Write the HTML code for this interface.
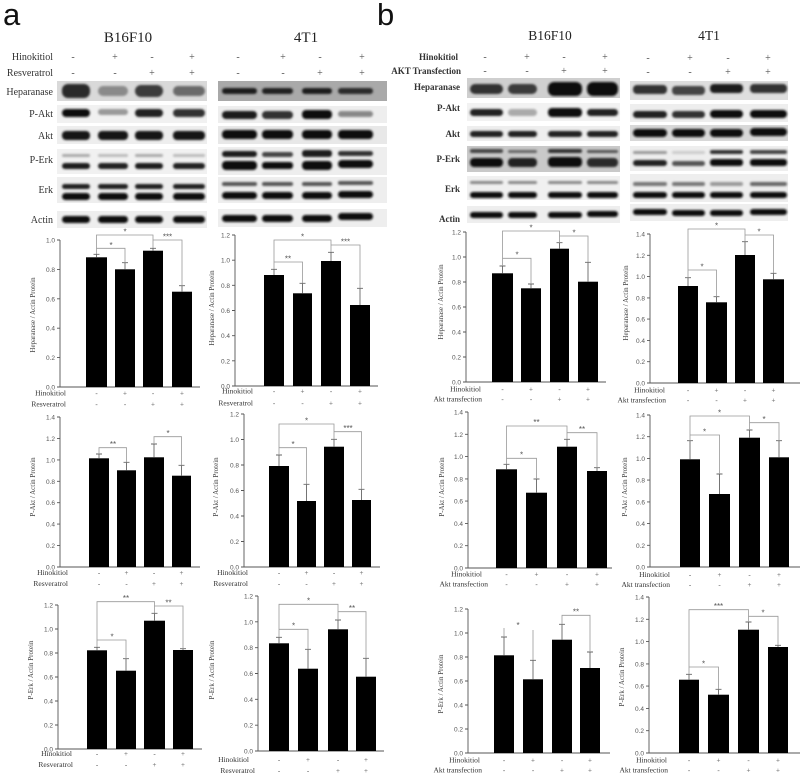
<!DOCTYPE html>
<html><head><meta charset="utf-8"><style>
html,body{margin:0;padding:0;background:#fff}
svg{display:block}
.sf{font-family:"Liberation Serif",serif}
.tk{font-family:"Liberation Sans",sans-serif;font-size:6.5px;fill:#555;text-anchor:end}
.yt{font-family:"Liberation Serif",serif;font-size:7px;fill:#444;text-anchor:middle}
.rl{font-family:"Liberation Serif",serif;font-size:7.5px;fill:#333;text-anchor:end}
.mk{font-family:"Liberation Serif",serif;font-size:7px;fill:#555;text-anchor:middle}
.st{font-family:"Liberation Sans",sans-serif;font-size:8px;fill:#555;text-anchor:middle}
.ax{stroke:#555;stroke-width:0.9;fill:none}
.br{stroke:#999;stroke-width:0.8;fill:none}
.er{stroke:#666;stroke-width:0.9;fill:none}
.hd{font-family:"Liberation Serif",serif;font-size:10px;fill:#333}
.hm{font-family:"Liberation Serif",serif;font-size:10px;fill:#555;text-anchor:middle}
.hb{font-family:"Liberation Serif",serif;font-size:9px;font-weight:bold;fill:#333}
</style></head><body>
<svg width="806" height="777" viewBox="0 0 806 777" xmlns="http://www.w3.org/2000/svg">
<defs><filter id="bl" x="-20%" y="-50%" width="140%" height="200%"><feGaussianBlur stdDeviation="1"/></filter></defs>
<rect width="806" height="777" fill="#fff"/>

<!-- Panel letters -->
<text x="3" y="25" font-family="Liberation Sans, sans-serif" font-size="31" fill="#111">a</text>
<text x="377" y="25" font-family="Liberation Sans, sans-serif" font-size="31" fill="#111">b</text>

<!-- Panel a headers -->
<text x="128" y="42" class="sf" font-size="15" fill="#222" text-anchor="middle">B16F10</text>
<text x="306" y="42" class="sf" font-size="15" fill="#222" text-anchor="middle">4T1</text>
<text x="53" y="60" class="hd" text-anchor="end">Hinokitiol</text>
<text x="53" y="76" class="hd" text-anchor="end">Resveratrol</text>
<g class="hm">
<text x="73" y="60">-</text><text x="115" y="60">+</text><text x="152" y="60">-</text><text x="192" y="60">+</text>
<text x="238" y="60">-</text><text x="283" y="60">+</text><text x="320" y="60">-</text><text x="362" y="60">+</text>
<text x="73" y="76">-</text><text x="115" y="76">-</text><text x="152" y="76">+</text><text x="192" y="76">+</text>
<text x="238" y="76">-</text><text x="283" y="76">-</text><text x="320" y="76">+</text><text x="362" y="76">+</text>
</g>
<g class="hd" text-anchor="end">
<text x="53" y="95" text-anchor="end">Heparanase</text>
<text x="53" y="117" text-anchor="end">P-Akt</text>
<text x="53" y="139" text-anchor="end">Akt</text>
<text x="53" y="163" text-anchor="end">P-Erk</text>
<text x="53" y="193" text-anchor="end">Erk</text>
<text x="53" y="223" text-anchor="end">Actin</text>
</g>

<!-- Panel a blots B16F10 -->
<rect x="57" y="81" width="150" height="20" fill="#d9d9d9"/>
<rect x="57" y="105" width="150" height="18" fill="#f1f1f1"/>
<rect x="57" y="126" width="150" height="18" fill="#eeeeee"/>
<rect x="57" y="149" width="150" height="25" fill="#f1f1f1"/>
<rect x="57" y="177" width="150" height="26" fill="#eeeeee"/>
<rect x="57" y="211" width="150" height="17" fill="#eeeeee"/>
<g filter="url(#bl)">
<rect x="62" y="84" width="28" height="14" rx="6" fill="#2a2a2a"/>
<rect x="98" y="86" width="30" height="10" rx="5" fill="#8a8a8a"/>
<rect x="135" y="85" width="28" height="12" rx="6" fill="#3a3a3a"/>
<rect x="173" y="86" width="32" height="10" rx="5" fill="#6a6a6a"/>
<rect x="62" y="109" width="28" height="8" rx="4" fill="#111"/>
<rect x="98" y="109" width="30" height="6" rx="3" fill="#999"/>
<rect x="135" y="109" width="28" height="8" rx="4" fill="#222"/>
<rect x="173" y="109" width="32" height="8" rx="4" fill="#333"/>
<rect x="62" y="131" width="28" height="9" rx="4" fill="#151515"/>
<rect x="98" y="131" width="30" height="9" rx="4" fill="#151515"/>
<rect x="135" y="131" width="28" height="9" rx="4" fill="#151515"/>
<rect x="173" y="131" width="32" height="9" rx="4" fill="#151515"/>
<rect x="62" y="154" width="28" height="3" rx="1.5" fill="#aaa"/>
<rect x="98" y="154" width="30" height="3" rx="1.5" fill="#bbb"/>
<rect x="135" y="154" width="28" height="3" rx="1.5" fill="#aaa"/>
<rect x="173" y="154" width="32" height="3" rx="1.5" fill="#bbb"/>
<rect x="62" y="163" width="28" height="6" rx="3" fill="#1a1a1a"/>
<rect x="98" y="163" width="30" height="6" rx="3" fill="#222"/>
<rect x="135" y="163" width="28" height="6" rx="3" fill="#1a1a1a"/>
<rect x="173" y="163" width="32" height="6" rx="3" fill="#222"/>
<rect x="62" y="184" width="28" height="5" rx="2.5" fill="#222"/>
<rect x="98" y="184" width="30" height="5" rx="2.5" fill="#222"/>
<rect x="135" y="184" width="28" height="5" rx="2.5" fill="#222"/>
<rect x="173" y="184" width="32" height="5" rx="2.5" fill="#222"/>
<rect x="62" y="193" width="28" height="7" rx="3.5" fill="#111"/>
<rect x="98" y="193" width="30" height="7" rx="3.5" fill="#111"/>
<rect x="135" y="193" width="28" height="7" rx="3.5" fill="#111"/>
<rect x="173" y="193" width="32" height="7" rx="3.5" fill="#111"/>
<rect x="62" y="216" width="28" height="7" rx="3.5" fill="#111"/>
<rect x="98" y="216" width="30" height="7" rx="3.5" fill="#111"/>
<rect x="135" y="216" width="28" height="7" rx="3.5" fill="#111"/>
<rect x="173" y="216" width="32" height="7" rx="3.5" fill="#111"/>
</g>

<!-- Panel a blots 4T1 -->
<rect x="218" y="81" width="169" height="20" fill="#a9a9a9"/>
<rect x="218" y="106" width="169" height="17" fill="#eeeeee"/>
<rect x="218" y="126" width="169" height="18" fill="#e8e8e8"/>
<rect x="218" y="147" width="169" height="28" fill="#eeeeee"/>
<rect x="218" y="177" width="169" height="26" fill="#eeeeee"/>
<rect x="218" y="209" width="169" height="18" fill="#eeeeee"/>
<g filter="url(#bl)">
<rect x="222" y="88" width="35" height="6" rx="3" fill="#1a1a1a"/>
<rect x="262" y="88" width="31" height="6" rx="3" fill="#222"/>
<rect x="302" y="88" width="30" height="6" rx="3" fill="#1a1a1a"/>
<rect x="338" y="88" width="35" height="6" rx="3" fill="#2a2a2a"/>
<rect x="222" y="111" width="35" height="8" rx="4" fill="#1a1a1a"/>
<rect x="262" y="111" width="31" height="8" rx="4" fill="#333"/>
<rect x="302" y="110" width="30" height="9" rx="4" fill="#111"/>
<rect x="338" y="111" width="35" height="6" rx="3" fill="#888"/>
<rect x="222" y="130" width="35" height="9" rx="4" fill="#111"/>
<rect x="262" y="130" width="31" height="9" rx="4" fill="#111"/>
<rect x="302" y="130" width="30" height="9" rx="4" fill="#111"/>
<rect x="338" y="130" width="35" height="9" rx="4" fill="#111"/>
<rect x="222" y="151" width="35" height="6" rx="3" fill="#1a1a1a"/>
<rect x="262" y="152" width="31" height="5" rx="2.5" fill="#444"/>
<rect x="302" y="150" width="30" height="7" rx="3" fill="#1a1a1a"/>
<rect x="338" y="151" width="35" height="5" rx="2.5" fill="#333"/>
<rect x="222" y="161" width="35" height="9" rx="4" fill="#111"/>
<rect x="262" y="162" width="31" height="7" rx="3" fill="#111"/>
<rect x="302" y="161" width="30" height="9" rx="4" fill="#111"/>
<rect x="338" y="160" width="35" height="8" rx="4" fill="#111"/>
<rect x="222" y="182" width="35" height="4" rx="2" fill="#555"/>
<rect x="262" y="182" width="31" height="4" rx="2" fill="#555"/>
<rect x="302" y="182" width="30" height="4" rx="2" fill="#555"/>
<rect x="338" y="181" width="35" height="4" rx="2" fill="#555"/>
<rect x="222" y="192" width="35" height="7" rx="3.5" fill="#111"/>
<rect x="262" y="192" width="31" height="7" rx="3.5" fill="#111"/>
<rect x="302" y="192" width="30" height="7" rx="3.5" fill="#111"/>
<rect x="338" y="191" width="35" height="7" rx="3.5" fill="#111"/>
<rect x="222" y="215" width="35" height="7" rx="3.5" fill="#111"/>
<rect x="262" y="215" width="31" height="7" rx="3.5" fill="#111"/>
<rect x="302" y="215" width="30" height="7" rx="3.5" fill="#111"/>
<rect x="338" y="213" width="35" height="7" rx="3.5" fill="#111"/>
</g>

<!-- Panel b headers -->
<text x="550" y="40" class="sf" font-size="13.5" fill="#222" text-anchor="middle">B16F10</text>
<text x="709" y="40" class="sf" font-size="13.5" fill="#222" text-anchor="middle">4T1</text>
<text x="458" y="60" class="hb" text-anchor="end">Hinokitiol</text>
<text x="461" y="74" class="hb" text-anchor="end">AKT Transfection</text>
<g class="hm" font-size="9">
<text x="485" y="60">-</text><text x="527" y="60">+</text><text x="564" y="60">-</text><text x="605" y="60">+</text>
<text x="648" y="61">-</text><text x="690" y="61">+</text><text x="728" y="61">-</text><text x="768" y="61">+</text>
<text x="485" y="74">-</text><text x="527" y="74">-</text><text x="564" y="74">+</text><text x="605" y="74">+</text>
<text x="648" y="75">-</text><text x="690" y="75">-</text><text x="728" y="75">+</text><text x="768" y="75">+</text>
</g>
<g class="hb">
<text x="460" y="90" text-anchor="end">Heparanase</text>
<text x="460" y="111" text-anchor="end">P-Akt</text>
<text x="460" y="137" text-anchor="end">Akt</text>
<text x="460" y="162" text-anchor="end">P-Erk</text>
<text x="460" y="192" text-anchor="end">Erk</text>
<text x="460" y="222" text-anchor="end">Actin</text>
</g>

<!-- Panel b blots B16F10 -->
<rect x="467" y="78" width="153" height="20" fill="#cfcfcf"/>
<rect x="467" y="103" width="153" height="18" fill="#f2f2f2"/>
<rect x="467" y="126" width="153" height="15" fill="#eeeeee"/>
<rect x="467" y="146" width="153" height="26" fill="#c9c9c9"/>
<rect x="467" y="176" width="153" height="24" fill="#f0f0f0"/>
<rect x="467" y="206" width="153" height="17" fill="#eeeeee"/>
<g filter="url(#bl)">
<rect x="470" y="84" width="33" height="10" rx="5" fill="#333"/>
<rect x="508" y="84" width="29" height="10" rx="5" fill="#3a3a3a"/>
<rect x="548" y="82" width="34" height="14" rx="6" fill="#0d0d0d"/>
<rect x="587" y="82" width="31" height="14" rx="6" fill="#111"/>
<rect x="470" y="109" width="33" height="7" rx="3.5" fill="#222"/>
<rect x="508" y="109" width="29" height="7" rx="3.5" fill="#aaa"/>
<rect x="548" y="108" width="34" height="9" rx="4" fill="#111"/>
<rect x="587" y="109" width="31" height="7" rx="3.5" fill="#222"/>
<rect x="470" y="131" width="33" height="6" rx="3" fill="#222"/>
<rect x="508" y="131" width="29" height="6" rx="3" fill="#222"/>
<rect x="548" y="131" width="34" height="6" rx="3" fill="#222"/>
<rect x="587" y="131" width="31" height="6" rx="3" fill="#222"/>
<rect x="470" y="149" width="33" height="4" rx="2" fill="#444"/>
<rect x="508" y="150" width="29" height="3" rx="1.5" fill="#666"/>
<rect x="548" y="149" width="34" height="4" rx="2" fill="#333"/>
<rect x="587" y="150" width="31" height="3" rx="1.5" fill="#555"/>
<rect x="470" y="158" width="33" height="9" rx="4" fill="#111"/>
<rect x="508" y="158" width="29" height="9" rx="4" fill="#222"/>
<rect x="548" y="157" width="34" height="10" rx="4" fill="#111"/>
<rect x="587" y="158" width="31" height="9" rx="4" fill="#2a2a2a"/>
<rect x="470" y="181" width="33" height="3" rx="1.5" fill="#888"/>
<rect x="508" y="181" width="29" height="3" rx="1.5" fill="#888"/>
<rect x="548" y="181" width="34" height="3" rx="1.5" fill="#888"/>
<rect x="587" y="181" width="31" height="3" rx="1.5" fill="#888"/>
<rect x="470" y="192" width="33" height="6" rx="3" fill="#111"/>
<rect x="508" y="192" width="29" height="6" rx="3" fill="#111"/>
<rect x="548" y="192" width="34" height="6" rx="3" fill="#111"/>
<rect x="587" y="192" width="31" height="6" rx="3" fill="#111"/>
<rect x="470" y="212" width="33" height="6" rx="3" fill="#111"/>
<rect x="508" y="212" width="29" height="6" rx="3" fill="#111"/>
<rect x="548" y="212" width="34" height="6" rx="3" fill="#111"/>
<rect x="587" y="211" width="31" height="6" rx="3" fill="#111"/>
</g>

<!-- Panel b blots 4T1 -->
<rect x="630" y="81" width="158" height="19" fill="#dedede"/>
<rect x="630" y="104" width="158" height="18" fill="#eeeeee"/>
<rect x="630" y="125" width="158" height="16" fill="#d8d8d8"/>
<rect x="630" y="146" width="158" height="25" fill="#eeeeee"/>
<rect x="630" y="174" width="158" height="28" fill="#eeeeee"/>
<rect x="630" y="204" width="158" height="17" fill="#eeeeee"/>
<g filter="url(#bl)">
<rect x="633" y="85" width="34" height="9" rx="4" fill="#333"/>
<rect x="672" y="86" width="33" height="9" rx="4" fill="#444"/>
<rect x="710" y="84" width="33" height="9" rx="4" fill="#1a1a1a"/>
<rect x="750" y="84" width="37" height="9" rx="4" fill="#333"/>
<rect x="633" y="111" width="34" height="7" rx="3.5" fill="#222"/>
<rect x="672" y="111" width="33" height="7" rx="3.5" fill="#333"/>
<rect x="710" y="110" width="33" height="8" rx="4" fill="#111"/>
<rect x="750" y="110" width="37" height="8" rx="4" fill="#111"/>
<rect x="633" y="129" width="34" height="8" rx="4" fill="#111"/>
<rect x="672" y="129" width="33" height="8" rx="4" fill="#111"/>
<rect x="710" y="129" width="33" height="8" rx="4" fill="#111"/>
<rect x="750" y="128" width="37" height="8" rx="4" fill="#111"/>
<rect x="633" y="151" width="34" height="3" rx="1.5" fill="#999"/>
<rect x="672" y="151" width="33" height="3" rx="1.5" fill="#ccc"/>
<rect x="710" y="150" width="33" height="4" rx="2" fill="#333"/>
<rect x="750" y="150" width="37" height="4" rx="2" fill="#444"/>
<rect x="633" y="160" width="34" height="6" rx="3" fill="#222"/>
<rect x="672" y="161" width="33" height="5" rx="2.5" fill="#555"/>
<rect x="710" y="159" width="33" height="7" rx="3" fill="#111"/>
<rect x="750" y="159" width="37" height="7" rx="3" fill="#111"/>
<rect x="633" y="182" width="34" height="4" rx="2" fill="#777"/>
<rect x="672" y="182" width="33" height="4" rx="2" fill="#777"/>
<rect x="710" y="182" width="33" height="4" rx="2" fill="#999"/>
<rect x="750" y="182" width="37" height="4" rx="2" fill="#666"/>
<rect x="633" y="192" width="34" height="6" rx="3" fill="#111"/>
<rect x="672" y="192" width="33" height="6" rx="3" fill="#111"/>
<rect x="710" y="192" width="33" height="6" rx="3" fill="#111"/>
<rect x="750" y="192" width="37" height="6" rx="3" fill="#111"/>
<rect x="633" y="209" width="34" height="6" rx="3" fill="#111"/>
<rect x="672" y="210" width="33" height="6" rx="3" fill="#111"/>
<rect x="710" y="210" width="33" height="6" rx="3" fill="#111"/>
<rect x="750" y="209" width="37" height="6" rx="3" fill="#111"/>
</g>

<!-- ===== Chart a1L ===== -->
<path class="ax" d="M60 240V387H200M57 387H60M57 357.6H60M57 328.2H60M57 298.8H60M57 269.4H60M57 240H60"/>
<g class="tk"><text x="55" y="389.5">0.0</text><text x="55" y="360.1">0.2</text><text x="55" y="330.7">0.4</text><text x="55" y="301.3">0.6</text><text x="55" y="271.9">0.8</text><text x="55" y="242.5">1.0</text></g>
<g fill="#000"><rect x="86" y="257.3" width="21" height="129.7"/><rect x="115" y="269.3" width="20" height="117.7"/><rect x="143" y="250.7" width="20" height="136.3"/><rect x="172" y="291.7" width="20" height="95.3"/></g>
<path class="er" d="M96.5 257.3V254.3M93.5 254.3H99.5M125 269.3V262.7M122 262.7H128M153 250.7V248.3M150 248.3H156M182 291.7V285.7M179 285.7H185"/>
<path class="br" d="M96.5 254V235H153V248M96.5 254V248.3H125V262.7M153 248V240H182V285.7"/>
<g class="st"><text x="125" y="234.5">*</text><text x="111" y="247.8">*</text><text x="167.5" y="239.5">***</text></g>
<text class="yt" transform="translate(35,315) rotate(-90)">Heparanase / Actin Protein</text>
<text class="rl" x="66" y="395.5">Hinokitiol</text><text class="rl" x="66" y="406.5">Resveratrol</text>
<g class="mk"><text x="96.5" y="395.5">-</text><text x="125" y="395.5">+</text><text x="153" y="395.5">-</text><text x="182" y="395.5">+</text><text x="96.5" y="406.5">-</text><text x="125" y="406.5">-</text><text x="153" y="406.5">+</text><text x="182" y="406.5">+</text></g>

<!-- ===== Chart a1R ===== -->
<path class="ax" d="M235 235V386H378M232 386H235M232 360.8H235M232 335.7H235M232 310.5H235M232 285.3H235M232 260.2H235M232 235H235"/>
<g class="tk"><text x="230" y="388.5">0.0</text><text x="230" y="363.3">0.2</text><text x="230" y="338.2">0.4</text><text x="230" y="313">0.6</text><text x="230" y="287.8">0.8</text><text x="230" y="262.7">1.0</text><text x="230" y="237.5">1.2</text></g>
<g fill="#000"><rect x="264" y="275" width="20" height="111"/><rect x="293" y="293.3" width="19" height="92.7"/><rect x="321" y="261" width="20" height="125"/><rect x="350" y="305" width="20" height="81"/></g>
<path class="er" d="M274 275V269.3M271 269.3H277M302.5 293.3V283.3M299.5 283.3H305.5M331 261V252.3M328 252.3H334M360 305V288.3M357 288.3H363"/>
<path class="br" d="M274 269V240H331V252M274 269V262H302.5V283.3M331 252V245H360V288.3"/>
<g class="st"><text x="302.5" y="239.5">*</text><text x="288" y="261.5">**</text><text x="345.5" y="244.5">***</text></g>
<text class="yt" transform="translate(214,308) rotate(-90)">Heparanase / Actin Protein</text>
<text class="rl" x="253" y="393.5">Hinokitiol</text><text class="rl" x="253" y="405.5">Resveratrol</text>
<g class="mk"><text x="274" y="393.5">-</text><text x="302.5" y="393.5">+</text><text x="331" y="393.5">-</text><text x="360" y="393.5">+</text><text x="274" y="405.5">-</text><text x="302.5" y="405.5">-</text><text x="331" y="405.5">+</text><text x="360" y="405.5">+</text></g>

<!-- ===== Chart a2L ===== -->
<path class="ax" d="M60 417V567H200M57 567H60M57 545.6H60M57 524.1H60M57 502.7H60M57 481.3H60M57 459.9H60M57 438.4H60M57 417H60"/>
<g class="tk"><text x="55" y="569.5">0.0</text><text x="55" y="548.1">0.2</text><text x="55" y="526.6">0.4</text><text x="55" y="505.2">0.6</text><text x="55" y="483.8">0.8</text><text x="55" y="462.4">1.0</text><text x="55" y="440.9">1.2</text><text x="55" y="419.5">1.4</text></g>
<g fill="#000"><rect x="89" y="458.3" width="20" height="108.7"/><rect x="117" y="470.3" width="19" height="96.7"/><rect x="144" y="457.3" width="20" height="109.7"/><rect x="172" y="475.7" width="19" height="91.3"/></g>
<path class="er" d="M99 458.3V454M96 454H102M126.5 470.3V462.3M123.5 462.3H129.5M154 457.3V444M151 444H157M181.5 475.7V465.3M178.5 465.3H184.5"/>
<path class="br" d="M99 454V447.7H126.5V462.3M154 444V436.7H181.5V465.3"/>
<g class="st"><text x="113" y="447">**</text><text x="168" y="436">*</text></g>
<text class="yt" transform="translate(35,487) rotate(-90)">P-Akt / Actin Protein</text>
<text class="rl" x="68" y="575">Hinokitiol</text><text class="rl" x="68" y="586">Resveratrol</text>
<g class="mk"><text x="99" y="575">-</text><text x="126.5" y="575">+</text><text x="154" y="575">-</text><text x="181.5" y="575">+</text><text x="99" y="586">-</text><text x="126.5" y="586">-</text><text x="154" y="586">+</text><text x="181.5" y="586">+</text></g>

<!-- ===== Chart a2R ===== -->
<path class="ax" d="M244 414V567H380M241 567H244M241 541.5H244M241 516H244M241 490.5H244M241 465H244M241 439.5H244M241 414H244"/>
<g class="tk"><text x="239" y="569.5">0.0</text><text x="239" y="544">0.2</text><text x="239" y="518.5">0.4</text><text x="239" y="493">0.6</text><text x="239" y="467.5">0.8</text><text x="239" y="442">1.0</text><text x="239" y="416.5">1.2</text></g>
<g fill="#000"><rect x="269" y="466" width="20" height="101"/><rect x="297" y="501" width="19" height="66"/><rect x="324" y="446.7" width="20" height="120.3"/><rect x="352" y="500" width="19" height="67"/></g>
<path class="er" d="M279 466V455M276 455H282M306.5 501V484.3M303.5 484.3H309.5M334 446.7V439.3M331 439.3H337M361.5 500V489.3M358.5 489.3H364.5"/>
<path class="br" d="M279 455V424H334V439.3M279 455V447.7H306.5V484.3M334 439.3V431.7H361.5V489.3"/>
<g class="st"><text x="306.5" y="423.5">*</text><text x="293" y="447">*</text><text x="348" y="431">***</text></g>
<text class="yt" transform="translate(218,487) rotate(-90)">P-Akt / Actin Protein</text>
<text class="rl" x="248" y="575">Hinokitiol</text><text class="rl" x="248" y="586">Resveratrol</text>
<g class="mk"><text x="279" y="575">-</text><text x="306.5" y="575">+</text><text x="334" y="575">-</text><text x="361.5" y="575">+</text><text x="279" y="586">-</text><text x="306.5" y="586">-</text><text x="334" y="586">+</text><text x="361.5" y="586">+</text></g>

<!-- ===== Chart a3L ===== -->
<path class="ax" d="M58 605V749H202M55 749H58M55 725H58M55 701H58M55 677H58M55 653H58M55 629H58M55 605H58"/>
<g class="tk"><text x="53" y="751.5">0.0</text><text x="53" y="727.5">0.2</text><text x="53" y="703.5">0.4</text><text x="53" y="679.5">0.6</text><text x="53" y="655.5">0.8</text><text x="53" y="631.5">1.0</text><text x="53" y="607.5">1.2</text></g>
<g fill="#000"><rect x="87" y="650.3" width="20" height="98.7"/><rect x="116" y="670.7" width="20" height="78.3"/><rect x="144" y="620.7" width="21" height="128.3"/><rect x="173" y="650" width="20" height="99"/></g>
<path class="er" d="M97 650.3V647.3M94 647.3H100M126 670.7V658.7M123 658.7H129M154.5 620.7V613.3M151.5 613.3H157.5M183 650V648.7M180 648.7H186"/>
<path class="br" d="M97 647V601.7H154.5V613.3M97 647V640H126V658.7M154.5 613.3V606H183V648.7"/>
<g class="st"><text x="126" y="601">**</text><text x="112" y="639.5">*</text><text x="168.5" y="605.5">**</text></g>
<text class="yt" transform="translate(33,670) rotate(-90)">P-Erk / Actin Protein</text>
<text class="rl" x="72" y="756" font-size="8">Hinokitiol</text><text class="rl" x="73" y="767" font-size="8">Resveratrol</text>
<g class="mk"><text x="97" y="756">-</text><text x="126" y="756">+</text><text x="154.5" y="756">-</text><text x="183" y="756">+</text><text x="97" y="767">-</text><text x="126" y="767">-</text><text x="154.5" y="767">+</text><text x="183" y="767">+</text></g>

<!-- ===== Chart a3R ===== -->
<path class="ax" d="M258 596V751H384M255 751H258M255 725.2H258M255 699.3H258M255 673.5H258M255 647.7H258M255 621.8H258M255 596H258"/>
<g class="tk"><text x="253" y="753.5">0.0</text><text x="253" y="727.7">0.2</text><text x="253" y="701.8">0.4</text><text x="253" y="676">0.6</text><text x="253" y="650.2">0.8</text><text x="253" y="624.3">1.0</text><text x="253" y="598.5">1.2</text></g>
<g fill="#000"><rect x="269" y="643.3" width="20" height="107.7"/><rect x="298" y="668.7" width="20" height="82.3"/><rect x="328" y="629.3" width="20" height="121.7"/><rect x="356" y="676.7" width="20" height="74.3"/></g>
<path class="er" d="M279 643.3V637.3M276 637.3H282M308 668.7V649.3M305 649.3H311M338 629.3V620M335 620H341M366 676.7V658.3M363 658.3H369"/>
<path class="br" d="M279 637.3V604.3H338V620M279 637.3V629.3H308V649.3M338 620V611.7H366V658.3"/>
<g class="st"><text x="308.5" y="603.5">*</text><text x="293.5" y="628.5">*</text><text x="352" y="611">**</text></g>
<text class="yt" transform="translate(214,670) rotate(-90)">P-Erk / Actin Protein</text>
<text class="rl" x="249" y="762" font-size="8.5">Hinokitiol</text><text class="rl" x="255" y="773" font-size="8.5">Resveratrol</text>
<g class="mk"><text x="279" y="762">-</text><text x="308" y="762">+</text><text x="338" y="762">-</text><text x="366" y="762">+</text><text x="279" y="773">-</text><text x="308" y="773">-</text><text x="338" y="773">+</text><text x="366" y="773">+</text></g>

<!-- ===== Chart b1L ===== -->
<path class="ax" d="M466 232V382H606M463 382H466M463 357H466M463 332H466M463 307H466M463 282H466M463 257H466M463 232H466"/>
<g class="tk"><text x="461" y="384.5">0.0</text><text x="461" y="359.5">0.2</text><text x="461" y="334.5">0.4</text><text x="461" y="309.5">0.6</text><text x="461" y="284.5">0.8</text><text x="461" y="259.5">1.0</text><text x="461" y="234.5">1.2</text></g>
<g fill="#000"><rect x="492" y="273.3" width="21" height="108.7"/><rect x="521" y="288.3" width="20" height="93.7"/><rect x="550" y="248.7" width="19" height="133.3"/><rect x="578" y="281.7" width="20" height="100.3"/></g>
<path class="er" d="M502.5 273.3V266M499.5 266H505.5M531 288.3V284M528 284H534M559.5 248.7V242.7M556.5 242.7H562.5M588 281.7V262.3M585 262.3H591"/>
<path class="br" d="M502.5 266V231H559.5V242.7M502.5 266V258.3H531V284M559.5 242.7V236H588V262.3"/>
<g class="st"><text x="531" y="230.5">*</text><text x="517" y="257.5">*</text><text x="574" y="235.5">*</text></g>
<text class="yt" transform="translate(443,302) rotate(-90)">Heparanase / Actin Protein</text>
<text class="rl" x="481" y="391.5">Hinokitiol</text><text class="rl" x="482" y="401.5">Akt transfection</text>
<g class="mk"><text x="502.5" y="391.5">-</text><text x="531" y="391.5">+</text><text x="559.5" y="391.5">-</text><text x="588" y="391.5">+</text><text x="502.5" y="401.5">-</text><text x="531" y="401.5">-</text><text x="559.5" y="401.5">+</text><text x="588" y="401.5">+</text></g>

<!-- ===== Chart b1R ===== -->
<path class="ax" d="M650 234V383H800M647 383H650M647 361.7H650M647 340.4H650M647 319.1H650M647 297.9H650M647 276.6H650M647 255.3H650M647 234H650"/>
<g class="tk"><text x="645" y="385.5">0.0</text><text x="645" y="364.2">0.2</text><text x="645" y="342.9">0.4</text><text x="645" y="321.6">0.6</text><text x="645" y="300.4">0.8</text><text x="645" y="279.1">1.0</text><text x="645" y="257.8">1.2</text><text x="645" y="236.5">1.4</text></g>
<g fill="#000"><rect x="678" y="286" width="20" height="97"/><rect x="706" y="302.3" width="21" height="80.7"/><rect x="735" y="255" width="20" height="128"/><rect x="763" y="279.3" width="21" height="103.7"/></g>
<path class="er" d="M688 286V277.7M685 277.7H691M716.5 302.3V296.7M713.5 296.7H719.5M745 255V241.7M742 241.7H748M773.5 279.3V273.3M770.5 273.3H776.5"/>
<path class="br" d="M688 277.7V229H745V241.7M688 277.7V270H716.5V296.7M745 241.7V235H773.5V273.3"/>
<g class="st"><text x="716.5" y="228.5">*</text><text x="702" y="269.5">*</text><text x="759" y="234.5">*</text></g>
<text class="yt" transform="translate(628,303) rotate(-90)">Heparanase / Actin Protein</text>
<text class="rl" x="665" y="392.5">Hinokitiol</text><text class="rl" x="666" y="402.5">Akt transfection</text>
<g class="mk"><text x="688" y="392.5">-</text><text x="716.5" y="392.5">+</text><text x="745" y="392.5">-</text><text x="773.5" y="392.5">+</text><text x="688" y="402.5">-</text><text x="716.5" y="402.5">-</text><text x="745" y="402.5">+</text><text x="773.5" y="402.5">+</text></g>

<!-- ===== Chart b2L ===== -->
<path class="ax" d="M468 412V568H612M465 568H468M465 545.7H468M465 523.4H468M465 501.1H468M465 478.9H468M465 456.6H468M465 434.3H468M465 412H468"/>
<g class="tk"><text x="463" y="570.5">0.0</text><text x="463" y="548.2">0.2</text><text x="463" y="525.9">0.4</text><text x="463" y="503.6">0.6</text><text x="463" y="481.4">0.8</text><text x="463" y="459.1">1.0</text><text x="463" y="436.8">1.2</text><text x="463" y="414.5">1.4</text></g>
<g fill="#000"><rect x="496" y="469.3" width="21" height="98.7"/><rect x="526" y="492.7" width="21" height="75.3"/><rect x="557" y="446.7" width="20" height="121.3"/><rect x="587" y="471" width="20" height="97"/></g>
<path class="er" d="M506.5 469.3V464.3M503.5 464.3H509.5M536.5 492.7V479M533.5 479H539.5M567 446.7V439.3M564 439.3H570M597 471V467.7M594 467.7H600"/>
<path class="br" d="M506.5 464.3V426H567V439.3M506.5 464.3V458.3H536.5V479M567 439.3V432.7H597V467.7"/>
<g class="st"><text x="536.5" y="425">**</text><text x="521.5" y="457.5">*</text><text x="582" y="432">**</text></g>
<text class="yt" transform="translate(444,487) rotate(-90)">P-Akt / Actin Protein</text>
<text class="rl" x="482" y="576.5">Hinokitiol</text><text class="rl" x="488" y="586.5">Akt transfection</text>
<g class="mk"><text x="506.5" y="576.5">-</text><text x="536.5" y="576.5">+</text><text x="567" y="576.5">-</text><text x="597" y="576.5">+</text><text x="506.5" y="586.5">-</text><text x="536.5" y="586.5">-</text><text x="567" y="586.5">+</text><text x="597" y="586.5">+</text></g>

<!-- ===== Chart b2R ===== -->
<path class="ax" d="M650 415V567H800M647 567H650M647 545.3H650M647 523.6H650M647 501.9H650M647 480.1H650M647 458.4H650M647 436.7H650M647 415H650"/>
<g class="tk"><text x="645" y="569.5">0.0</text><text x="645" y="547.8">0.2</text><text x="645" y="526.1">0.4</text><text x="645" y="504.4">0.6</text><text x="645" y="482.6">0.8</text><text x="645" y="460.9">1.0</text><text x="645" y="439.2">1.2</text><text x="645" y="417.5">1.4</text></g>
<g fill="#000"><rect x="680" y="459.3" width="20" height="107.7"/><rect x="709" y="494" width="21" height="73"/><rect x="739" y="437.7" width="21" height="129.3"/><rect x="769" y="457.3" width="20" height="109.7"/></g>
<path class="er" d="M690 459.3V440.7M687 440.7H693M719.5 494V474M716.5 474H722.5M749.5 437.7V430M746.5 430H752.5M779 457.3V440.7M776 440.7H782"/>
<path class="br" d="M690 440.7V416H749.5V430M690 440.7V435H719.5V474M749.5 430V422.7H779V440.7"/>
<g class="st"><text x="719.5" y="415.5">*</text><text x="704.5" y="434.5">*</text><text x="764" y="422">*</text></g>
<text class="yt" transform="translate(627,487) rotate(-90)">P-Akt / Actin Protein</text>
<text class="rl" x="670" y="577">Hinokitiol</text><text class="rl" x="670" y="587">Akt transfection</text>
<g class="mk"><text x="690" y="577">-</text><text x="719.5" y="577">+</text><text x="749.5" y="577">-</text><text x="779" y="577">+</text><text x="690" y="587">-</text><text x="719.5" y="587">-</text><text x="749.5" y="587">+</text><text x="779" y="587">+</text></g>

<!-- ===== Chart b3L ===== -->
<path class="ax" d="M468 609V753H610M465 753H468M465 729H468M465 705H468M465 681H468M465 657H468M465 633H468M465 609H468"/>
<g class="tk"><text x="463" y="755.5">0.0</text><text x="463" y="731.5">0.2</text><text x="463" y="707.5">0.4</text><text x="463" y="683.5">0.6</text><text x="463" y="659.5">0.8</text><text x="463" y="635.5">1.0</text><text x="463" y="611.5">1.2</text></g>
<g fill="#000"><rect x="494" y="655.3" width="20" height="97.7"/><rect x="523" y="679.3" width="20" height="73.7"/><rect x="552" y="639.7" width="20" height="113.3"/><rect x="580" y="668" width="20" height="85"/></g>
<path class="er" d="M504 655.3V637M501 637H507M533 679.3V660.3M530 660.3H536M562 639.7V624.3M559 624.3H565M590 668V652M587 652H593"/>
<path class="br" d="M504 637V628M533 660V630M562 624.3V615.3H590V652"/>
<g class="st"><text x="518" y="628">*</text><text x="576" y="614.5">**</text></g>
<text class="yt" transform="translate(443,684) rotate(-90)">P-Erk / Actin Protein</text>
<text class="rl" x="480" y="762.5">Hinokitiol</text><text class="rl" x="482" y="772.5">Akt transfection</text>
<g class="mk"><text x="504" y="762.5">-</text><text x="533" y="762.5">+</text><text x="562" y="762.5">-</text><text x="590" y="762.5">+</text><text x="504" y="772.5">-</text><text x="533" y="772.5">-</text><text x="562" y="772.5">+</text><text x="590" y="772.5">+</text></g>

<!-- ===== Chart b3R ===== -->
<path class="ax" d="M649 597V753H800M646 753H649M646 730.7H649M646 708.4H649M646 686.1H649M646 663.9H649M646 641.6H649M646 619.3H649M646 597H649"/>
<g class="tk"><text x="644" y="755.5">0.0</text><text x="644" y="733.2">0.2</text><text x="644" y="710.9">0.4</text><text x="644" y="688.6">0.6</text><text x="644" y="666.4">0.8</text><text x="644" y="644.1">1.0</text><text x="644" y="621.8">1.2</text><text x="644" y="599.5">1.4</text></g>
<g fill="#000"><rect x="679" y="679.7" width="20" height="73.3"/><rect x="708" y="694.7" width="21" height="58.3"/><rect x="738" y="629.7" width="21" height="123.3"/><rect x="768" y="647" width="20" height="106"/></g>
<path class="er" d="M689 679.7V674.3M686 674.3H692M718.5 694.7V689.3M715.5 689.3H721.5M748.5 629.7V622M745.5 622H751.5M778 647V645.3M775 645.3H781"/>
<path class="br" d="M689 674.3V609.7H748.5V622M689 674.3V667H718.5V689.3M748.5 622V616.3H778V645.3"/>
<g class="st"><text x="718.5" y="609">***</text><text x="703.5" y="666.5">*</text><text x="763" y="615.5">*</text></g>
<text class="yt" transform="translate(624,677) rotate(-90)">P-Erk / Actin Protein</text>
<text class="rl" x="667" y="762.5">Hinokitiol</text><text class="rl" x="668" y="772.5">Akt transfection</text>
<g class="mk"><text x="689" y="762.5">-</text><text x="718.5" y="762.5">+</text><text x="748.5" y="762.5">-</text><text x="778" y="762.5">+</text><text x="689" y="772.5">-</text><text x="718.5" y="772.5">-</text><text x="748.5" y="772.5">+</text><text x="778" y="772.5">+</text></g>

</svg>
</body></html>
